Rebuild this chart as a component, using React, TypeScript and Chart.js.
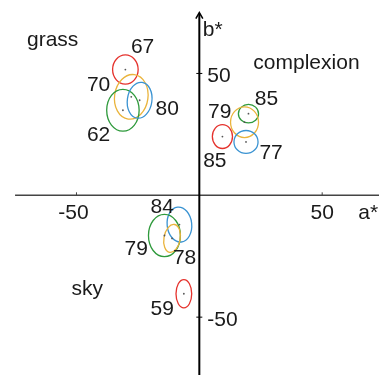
import React, { useEffect, useRef } from "react";
import { Chart, registerables } from "chart.js";

Chart.register(...registerables);

// ---- data (CIE a*, b*) ----
const seriesNames = ["red", "yellow", "green", "blue"];
const seriesColors = ["#e5322d", "#eab43c", "#2f9a3c", "#3a93d2"];

// ellipses: series index, centre a*, centre b*, radius a*, radius b*, tilt (deg)
const ellSeries = [0, 1, 2, 3, 2, 1, 0, 3, 3, 2, 1, 0];
const ellA = [-30.1, -27.7, -31.1, -24.3, 20.0, 18.4, 9.4, 19.0, -8.1, -14.2, -11.1, -6.3];
const ellB = [51.6, 40.4, 34.9, 39.0, 33.5, 30.0, 24.1, 21.9, -12.0, -16.5, -17.7, -40.4];
const ellRa = [5.2, 6.8, 6.6, 5.0, 4.1, 5.7, 4.1, 4.9, 5.0, 6.5, 3.3, 3.2];
const ellRb = [6.0, 9.2, 8.6, 7.4, 3.8, 6.3, 4.9, 4.7, 7.2, 8.7, 5.8, 5.8];
const ellTilt = [0, 8, 0, 8, 0, 0, 0, 0, -6, 0, 10, 0];

// annotations
const labelText = ["grass", "67", "70", "80", "62", "complexion", "85", "79", "85", "77", "84", "79", "78", "sky", "59"];
const labelA = [-59.7, -23.1, -41.0, -13.1, -41.0, 43.6, 27.3, 8.3, 6.3, 29.2, -15.1, -25.7, -6.0, -45.6, -15.1];
const labelB = [61.2, 58.4, 42.8, 33.1, 22.3, 51.7, 37.0, 31.6, 11.6, 14.9, -7.1, -24.3, -28.3, -40.8, -49.3];

// axes
const xTicks = [-50, 50];
const yTicks = [50, -50];
const xAxisStart = -75;
const yAxisTop = 75;
const xAxisTitle = "a*";
const yAxisTitle = "b*";
const xTitlePos = [64.7, -9.6];
const yTitlePos = [1.4, 65.3];

const FONT = "21px 'Liberation Sans', Arial, sans-serif";

const drawPlugin = {
  id: "labDraw",
  beforeDatasetsDraw(chart: any) {
    const ctx = chart.ctx;
    const xs = chart.scales.x;
    const ys = chart.scales.y;
    const x0 = xs.getPixelForValue(0);
    const y0 = ys.getPixelForValue(0);
    ctx.save();
    // horizontal axis
    ctx.strokeStyle = "#444";
    ctx.lineWidth = 1.5;
    ctx.beginPath();
    ctx.moveTo(xs.getPixelForValue(xAxisStart), y0);
    ctx.lineTo(chart.width, y0);
    ctx.stroke();
    // x ticks
    ctx.lineWidth = 1;
    xTicks.forEach((t) => {
      const px = xs.getPixelForValue(t);
      ctx.beginPath();
      ctx.moveTo(px, y0 - 3);
      ctx.lineTo(px, y0);
      ctx.stroke();
    });
    // vertical axis
    ctx.strokeStyle = "#000";
    ctx.lineWidth = 2;
    const topPx = ys.getPixelForValue(yAxisTop);
    ctx.beginPath();
    ctx.moveTo(x0, chart.height);
    ctx.lineTo(x0, topPx + 1);
    ctx.stroke();
    ctx.lineWidth = 1.5;
    ctx.beginPath();
    ctx.moveTo(x0 - 3.5, topPx + 6);
    ctx.lineTo(x0, topPx);
    ctx.lineTo(x0 + 3.5, topPx + 6);
    ctx.stroke();
    ctx.lineWidth = 1;
    yTicks.forEach((t) => {
      const py = ys.getPixelForValue(t);
      ctx.beginPath();
      ctx.moveTo(x0 - 3, py);
      ctx.lineTo(x0 + 3, py);
      ctx.stroke();
    });

    // ellipses
    ctx.lineWidth = 1.3;
    ellA.forEach((a, i) => {
      const cx = xs.getPixelForValue(a);
      const cy = ys.getPixelForValue(ellB[i]);
      const rx = Math.abs(xs.getPixelForValue(a + ellRa[i]) - cx);
      const ry = Math.abs(ys.getPixelForValue(ellB[i] + ellRb[i]) - cy);
      ctx.strokeStyle = seriesColors[ellSeries[i]];
      ctx.beginPath();
      ctx.ellipse(cx, cy, rx, ry, (ellTilt[i] * Math.PI) / 180, 0, Math.PI * 2);
      ctx.stroke();
    });

    // text
    ctx.font = FONT;
    ctx.fillStyle = "#1a1a1a";
    ctx.textBaseline = "alphabetic";
    ctx.textAlign = "center";
    labelText.forEach((t, i) => {
      ctx.fillText(t, xs.getPixelForValue(labelA[i]), ys.getPixelForValue(labelB[i]));
    });
    xTicks.forEach((t) => {
      ctx.fillText(String(t), xs.getPixelForValue(t) - (t < 0 ? 3 : 0), y0 + 24);
    });
    ctx.textAlign = "left";
    yTicks.forEach((t) => {
      ctx.fillText(String(t), x0 + 8, ys.getPixelForValue(t) + 8.5);
    });
    ctx.fillText(xAxisTitle, xs.getPixelForValue(xTitlePos[0]), ys.getPixelForValue(xTitlePos[1]));
    ctx.fillText(yAxisTitle, xs.getPixelForValue(yTitlePos[0]), ys.getPixelForValue(yTitlePos[1]));
    ctx.restore();
  },
};

export default function App() {
  const ref = useRef<HTMLCanvasElement | null>(null);
  useEffect(() => {
    if (!ref.current) return;
    const datasets = seriesNames.map((name, s) => ({
      label: name,
      data: ellA
        .map((a, i) => ({ x: a, y: ellB[i], s: ellSeries[i] }))
        .filter((p) => p.s === s)
        .map((p) => ({ x: p.x, y: p.y })),
      pointRadius: 0.9,
      pointBorderWidth: 0,
      pointBackgroundColor: "#555",
      showLine: false,
    }));
    const chart = new Chart(ref.current, {
      type: "scatter",
      data: { datasets },
      options: {
        responsive: false,
        animation: false,
        layout: { padding: 0 },
        plugins: { legend: { display: false }, tooltip: { enabled: false } },
        scales: {
          x: { type: "linear", display: false, min: -79.5, max: 71.5 },
          y: { type: "linear", display: false, min: -72.1, max: 78.5 },
        },
      },
      plugins: [drawPlugin],
    });
    return () => chart.destroy();
  }, []);
  return (
    <div style={{ position: "fixed", left: 0, top: 0, width: 379, height: 375, background: "#fff" }}>
      <canvas ref={ref} width={379} height={375} style={{ display: "block" }} />
    </div>
  );
}
